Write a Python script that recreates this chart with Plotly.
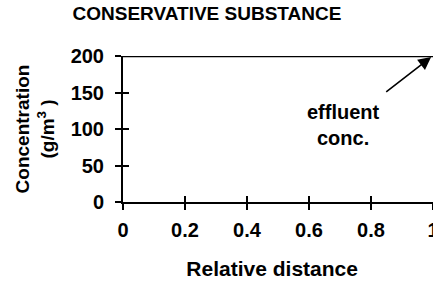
import plotly.graph_objects as go

# Data
distance = [0, 1]
concentration = [200, 200]
x_ticks = [0, 0.2, 0.4, 0.6, 0.8, 1]
x_tick_labels = ["0", "0.2", "0.4", "0.6", "0.8", "1"]
y_ticks = [0, 50, 100, 150, 200]
y_tick_labels = ["0", "50", "100", "150", "200"]

FONT = "Liberation Sans, Arial, Helvetica, sans-serif"

fig = go.Figure()
fig.add_trace(go.Scatter(x=distance, y=concentration, mode="lines",
                         line=dict(color="black", width=2.5),
                         showlegend=False, hoverinfo="skip", cliponaxis=False))

axis_common = dict(showgrid=False, zeroline=False, showline=True,
                   linecolor="black", linewidth=2, ticks="outside",
                   ticklen=6, tickwidth=2, tickcolor="black",
                   automargin=False)

fig.update_layout(
    width=433, height=282,
    margin=dict(l=123, r=0, t=56, b=80),
    paper_bgcolor="white", plot_bgcolor="white",
    font=dict(family=FONT, color="black"),
    title=dict(text="<b>CONSERVATIVE SUBSTANCE</b>", x=0.478, xanchor="center",
               y=0.952, yanchor="middle", yref="container",
               font=dict(size=19, family=FONT, color="black")),
    xaxis=dict(range=[0, 1], tickvals=x_ticks, ticktext=[f"<b>{t}</b>" for t in x_tick_labels],
               tickfont=dict(size=20), ticklabelstandoff=3, ticklabeloverflow="allow",
               title=dict(text="<b>Relative distance</b>&nbsp;&nbsp;", font=dict(size=21), standoff=21),
               **axis_common),
    yaxis=dict(range=[0, 200], tickvals=y_ticks, ticktext=[f"<b>{t}</b>" for t in y_tick_labels],
               tickfont=dict(size=20), ticklabelstandoff=7,
               title=dict(text="<b>Concentration<br>(g/m<sup>3</sup> )</b>", font=dict(size=19), standoff=11),
               **axis_common),
    xaxis2=dict(overlaying="x", matches="x", range=[0, 1], tickvals=x_ticks,
                showticklabels=False, showgrid=False, zeroline=False, showline=False,
                ticks="inside", ticklen=6, tickwidth=2, tickcolor="black", anchor="y"),
    yaxis2=dict(overlaying="y", matches="y", range=[0, 200], tickvals=y_ticks,
                showticklabels=False, showgrid=False, zeroline=False, showline=False,
                ticks="inside", ticklen=6, tickwidth=2, tickcolor="black", anchor="x"),
)

# invisible trace to activate the secondary (inside-tick) axes
fig.add_trace(go.Scatter(x=distance, y=concentration, xaxis="x2", yaxis="y2",
                         mode="lines", line=dict(width=0), opacity=0,
                         showlegend=False, hoverinfo="skip"))

fig.add_annotation(x=0.994, y=198.6, ax=0.71, ay=105, xref="x", yref="y",
                   axref="x", ayref="y", showarrow=True,
                   text="<b>effluent<br>conc.</b>", font=dict(size=20, family=FONT),
                   arrowhead=2, arrowsize=1.6, arrowwidth=1.6, arrowcolor="black",
                   startstandoff=13)

fig.write_html("out.html", config={"displayModeBar": False},
               post_script="document.body.style.margin='0px';"
                           "document.documentElement.style.overflow='hidden';")
